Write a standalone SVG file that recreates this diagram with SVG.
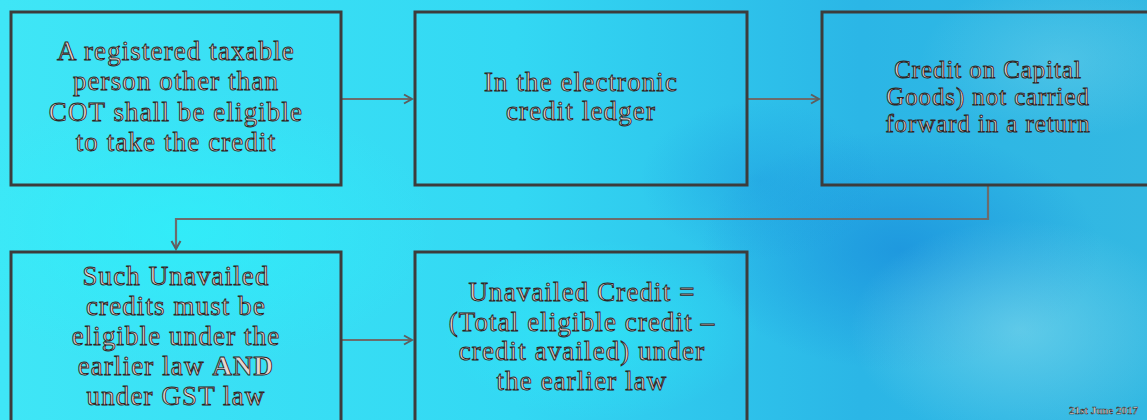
<svg xmlns="http://www.w3.org/2000/svg" width="1147" height="420" viewBox="0 0 1147 420">
<defs>
<linearGradient id="bg" x1="0" y1="0" x2="1" y2="0">
<stop offset="0" stop-color="#3fe6f6"/>
<stop offset="0.45" stop-color="#33d8f3"/>
<stop offset="0.75" stop-color="#2bb6e6"/>
<stop offset="1" stop-color="#33b8e2"/>
</linearGradient>
<radialGradient id="blue1" cx="0.5" cy="0.5" r="0.5">
<stop offset="0" stop-color="#1a8fdc" stop-opacity="0.75"/>
<stop offset="1" stop-color="#1a8fdc" stop-opacity="0"/>
</radialGradient>
<radialGradient id="light1" cx="0.5" cy="0.5" r="0.5">
<stop offset="0" stop-color="#7fd8ec" stop-opacity="0.6"/>
<stop offset="1" stop-color="#7fd8ec" stop-opacity="0"/>
</radialGradient>
<radialGradient id="cyan1" cx="0.5" cy="0.5" r="0.5">
<stop offset="0" stop-color="#2ef0fa" stop-opacity="0.7"/>
<stop offset="1" stop-color="#2ef0fa" stop-opacity="0"/>
</radialGradient>
<marker id="arr" viewBox="0 0 12 12" refX="10" refY="6" markerWidth="12" markerHeight="12" markerUnits="userSpaceOnUse" orient="auto">
<path d="M2,1.5 L10,6 L2,10.5" fill="none" stroke="#5e5e5e" stroke-width="2"/>
</marker>
<style>
.box{fill:none;stroke:#3c3c3c;stroke-width:3}
.con{fill:none;stroke:#6c6c6c;stroke-width:2.2}
.t{font-family:"Liberation Serif",serif;font-size:27px;letter-spacing:1.1px;fill:#e8d6d0;stroke:#2e2424;stroke-width:0.9px;text-anchor:middle}
.t3{font-size:25px;letter-spacing:0.9px}
.b{font-weight:bold}
.d{font-family:"Liberation Serif",serif;font-size:11px;font-weight:bold;fill:#e8dcd6;stroke:#2e2a2a;stroke-width:0.5px;text-anchor:end}
</style>
</defs>
<rect width="1147" height="420" fill="url(#bg)"/>
<ellipse cx="900" cy="250" rx="200" ry="120" fill="url(#blue1)"/>
<ellipse cx="760" cy="180" rx="120" ry="80" fill="url(#blue1)" opacity="0.5"/>
<ellipse cx="1020" cy="330" rx="170" ry="110" fill="url(#light1)"/>
<ellipse cx="1060" cy="60" rx="140" ry="80" fill="url(#light1)" opacity="0.6"/>
<ellipse cx="180" cy="230" rx="260" ry="140" fill="url(#cyan1)"/>
<ellipse cx="600" cy="330" rx="160" ry="90" fill="url(#cyan1)" opacity="0.7"/>

<g id="connectors">
<line class="con" x1="342" y1="99" x2="412" y2="99" marker-end="url(#arr)"/>
<line class="con" x1="748" y1="99" x2="819" y2="99" marker-end="url(#arr)"/>
<polyline class="con" points="988,186 988,219 176,219 176,249" marker-end="url(#arr)"/>
<line class="con" x1="342" y1="340" x2="412" y2="340" marker-end="url(#arr)"/>
</g>

<g id="node1">
<rect class="box" x="11" y="12" width="330" height="173"/>
<text class="t" x="176"><tspan x="176" y="60">A registered taxable</tspan><tspan x="176" y="90">person other than</tspan><tspan x="176" y="121">COT  shall be eligible</tspan><tspan x="176" y="151">to take the credit</tspan></text>
</g>

<g id="node2">
<rect class="box" x="415" y="12" width="332" height="173"/>
<text class="t" x="581"><tspan x="581" y="91">In the electronic</tspan><tspan x="581" y="120">credit ledger</tspan></text>
</g>

<g id="node3">
<rect class="box" x="822" y="12" width="332" height="173"/>
<text class="t t3" x="988"><tspan x="988" y="78">Credit on Capital</tspan><tspan x="988" y="105">Goods) not carried</tspan><tspan x="988" y="132">forward in a return</tspan></text>
</g>

<g id="node4">
<rect class="box" x="11" y="252" width="330" height="180"/>
<text class="t" x="176"><tspan x="176" y="285">Such Unavailed</tspan><tspan x="176" y="315">credits must be</tspan><tspan x="176" y="345">eligible under the</tspan><tspan x="176" y="375">earlier law <tspan class="b">AND</tspan></tspan><tspan x="176" y="405">under GST law</tspan></text>
</g>

<g id="node5">
<rect class="box" x="415" y="252" width="332" height="180"/>
<text class="t" x="582"><tspan x="582" y="301">Unavailed Credit =</tspan><tspan x="582" y="331">(Total eligible credit –</tspan><tspan x="582" y="360">credit availed) under</tspan><tspan x="582" y="390">the earlier law</tspan></text>
</g>

<text class="d" x="1138" y="414">21st June 2017</text>
</svg>
